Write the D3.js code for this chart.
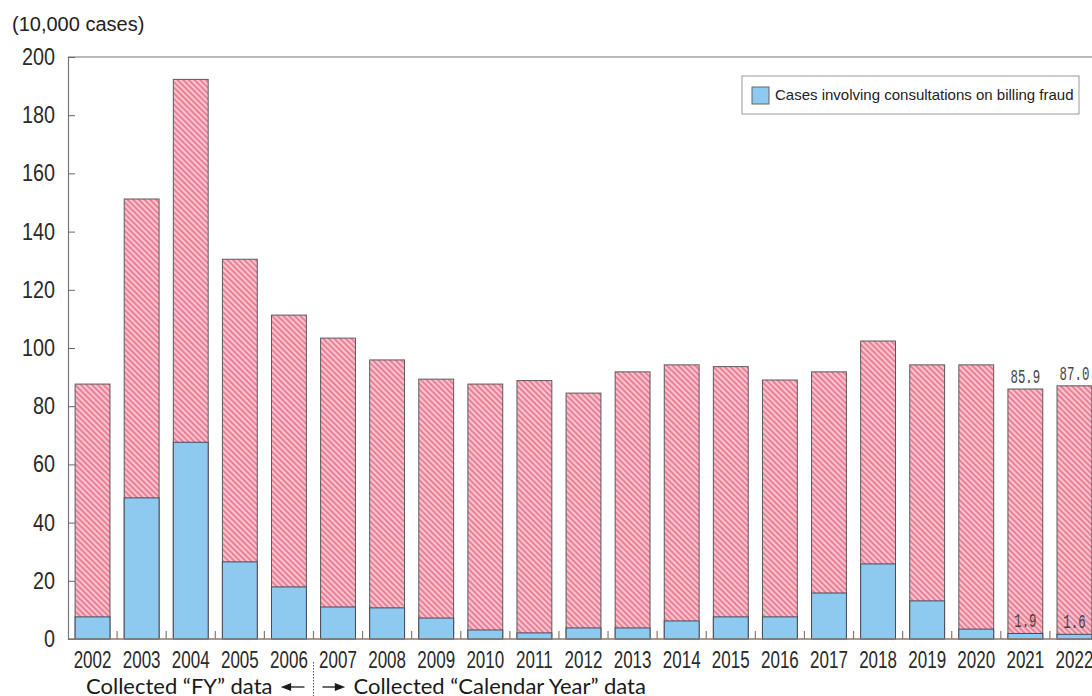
<!DOCTYPE html>
<html>
<head>
<meta charset="utf-8">
<script src="https://cdn.jsdelivr.net/npm/d3@7"></script>
<style>
  html, body { margin: 0; padding: 0; background: #fff; }
  svg { display: block; }
</style>
</head>
<body>
<svg id="chart" width="1092" height="696"></svg>
<script>
const years = ["2002","2003","2004","2005","2006","2007","2008","2009","2010","2011","2012","2013","2014","2015","2016","2017","2018","2019","2020","2021","2022"];
const totalCases = [87.6,151.2,192.3,130.5,111.3,103.4,95.9,89.3,87.6,88.8,84.5,91.8,94.2,93.6,89.0,91.8,102.4,94.2,94.2,85.9,87.0];
const fraudCases = [7.6,48.5,67.6,26.5,17.9,11.0,10.7,7.2,3.1,2.1,3.8,3.8,6.2,7.6,7.6,15.8,25.8,13.1,3.4,1.9,1.6];
const yTicks = [0,20,40,60,80,100,120,140,160,180,200];
const totalLabels = [{year:"2021", text:"85.9"},{year:"2022", text:"87.0"}];
const fraudLabels = [{year:"2021", text:"1.9"},{year:"2022", text:"1.6"}];
const dividerYear = "2006";

const svg = d3.select("#chart");
const mLeft = 68, mRight = 1099, mTop = 57, mBottom = 639;

const x = d3.scaleBand().domain(years).range([mLeft, mRight]).paddingInner(0.29).paddingOuter(0.145);
const y = d3.scaleLinear().domain([0, 200]).range([mBottom, mTop]);
const step = x.step();
const boundary = d => x(d) + x.bandwidth() + (step - x.bandwidth())/2;

// hatch pattern
const defs = svg.append("defs");
const pat = defs.append("pattern").attr("id","hatch").attr("patternUnits","userSpaceOnUse")
  .attr("width",4).attr("height",4).attr("patternTransform","rotate(-45)");
pat.append("rect").attr("width",4).attr("height",4).attr("fill","#f9c4ce");
pat.append("line").attr("x1",1).attr("y1",0).attr("x2",1).attr("y2",4)
  .attr("stroke","#ea8198").attr("stroke-width",2);

// frame top line
svg.append("line").attr("x1",mLeft).attr("x2",mRight).attr("y1",mTop).attr("y2",mTop)
  .attr("stroke","#777").attr("stroke-width",1.2);

// bars: total (hatched)
svg.append("g").selectAll("rect").data(years).join("rect")
  .attr("x", d => x(d)).attr("width", x.bandwidth())
  .attr("y", (d,i) => y(totalCases[i])).attr("height", (d,i) => y(0) - y(totalCases[i]))
  .attr("fill","url(#hatch)").attr("stroke","#5a5a5a").attr("stroke-width",1);

// bars: fraud (blue)
svg.append("g").selectAll("rect").data(years).join("rect")
  .attr("x", d => x(d)).attr("width", x.bandwidth())
  .attr("y", (d,i) => y(fraudCases[i])).attr("height", (d,i) => y(0) - y(fraudCases[i]))
  .attr("fill","#8ec9ef").attr("stroke","#4a4a5a").attr("stroke-width",1);

// y axis
const yAxis = d3.axisLeft(y).tickValues(yTicks).tickSize(-7).tickFormat("");
const gy = svg.append("g").attr("transform",`translate(${mLeft},0)`).call(yAxis);
gy.select(".domain").attr("stroke","#777").attr("stroke-width",1.2);
gy.selectAll(".tick line").attr("stroke","#666");
svg.append("g").selectAll("text").data(yTicks).join("text")
  .attr("transform", d => `translate(55,${y(d)}) scale(0.86,1)`)
  .attr("text-anchor","end").attr("dy","0.35em")
  .attr("font-family","'Liberation Sans',Arial,sans-serif")
  .attr("font-size","23px").attr("fill","#2a2a2a").text(d => d);

// x axis line and ticks at band boundaries
svg.append("line").attr("x1",mLeft).attr("x2",mRight).attr("y1",mBottom).attr("y2",mBottom)
  .attr("stroke","#8a7a6a").attr("stroke-width",1.5);
svg.append("g").selectAll("line").data(years).join("line")
  .attr("x1", boundary).attr("x2", boundary)
  .attr("y1", mBottom).attr("y2", mBottom - 8)
  .attr("stroke","#8a7a6a").attr("stroke-width",1.2);

svg.append("g").selectAll("text").data(years).join("text")
  .attr("transform", d => `translate(${x(d) + x.bandwidth()/2},668) scale(0.74,1)`)
  .attr("text-anchor","middle")
  .attr("font-family","'Liberation Sans',Arial,sans-serif")
  .attr("font-size","23px").attr("fill","#2a2a2a").text(d => d);

// value labels
svg.append("g").selectAll("text").data(totalLabels).join("text")
  .attr("transform", d => `translate(${x(d.year) + x.bandwidth()/2},${y(totalCases[years.indexOf(d.year)]) - 6}) scale(0.62,1)`)
  .attr("text-anchor","middle").attr("font-family","'Liberation Mono','DejaVu Sans Mono',monospace")
  .attr("font-size","20px").attr("fill","#444").text(d => d.text);
svg.append("g").selectAll("text").data(fraudLabels).join("text")
  .attr("transform", d => `translate(${x(d.year) + x.bandwidth()/2},${y(fraudCases[years.indexOf(d.year)]) - 6}) scale(0.62,1)`)
  .attr("text-anchor","middle").attr("font-family","'Liberation Mono','DejaVu Sans Mono',monospace")
  .attr("font-size","20px").attr("fill","#444").text(d => d.text);

// unit label
svg.append("text").attr("x",12).attr("y",31)
  .attr("font-family","'Liberation Sans',Arial,sans-serif").attr("font-size","20px").attr("fill","#222")
  .text("(10,000 cases)");

// legend
const lg = svg.append("g");
lg.append("rect").attr("x",742).attr("y",76).attr("width",337).attr("height",38)
  .attr("fill","#fff").attr("stroke","#999").attr("stroke-width",1);
lg.append("rect").attr("x",752).attr("y",87).attr("width",17).attr("height",17)
  .attr("fill","#8ec9ef").attr("stroke","#666").attr("stroke-width",1);
lg.append("text").attr("x",775).attr("y",100)
  .attr("font-family","'Liberation Sans',Arial,sans-serif").attr("font-size","15px").attr("fill","#222")
  .text("Cases involving consultations on billing fraud");

// bottom annotation
const dx = boundary(dividerYear);
const ann = svg.append("g").attr("font-family","Lato,'Open Sans',sans-serif").attr("font-size","22px").attr("fill","#1a1a1a");
ann.append("text").attr("x",dx - 41).attr("y",694).attr("text-anchor","end").text("Collected \u201cFY\u201d data");
ann.append("text").attr("x",dx + 40).attr("y",694).text("Collected \u201cCalendar Year\u201d data");
svg.append("line").attr("x1",dx).attr("x2",dx).attr("y1",662).attr("y2",696)
  .attr("stroke","#555").attr("stroke-dasharray","1.5,1.5").attr("stroke-width",1);
// arrows
const arr = svg.append("g").attr("stroke","#1a1a1a").attr("stroke-width",1.3).attr("fill","#1a1a1a");
arr.append("line").attr("x1",dx - 29).attr("x2",dx - 9).attr("y1",687).attr("y2",687);
arr.append("path").attr("d",`M${dx-31},687 L${dx-23},684 L${dx-23},690 Z`);
arr.append("line").attr("x1",dx + 9).attr("x2",dx + 28).attr("y1",687).attr("y2",687);
arr.append("path").attr("d",`M${dx+30},687 L${dx+22},684 L${dx+22},690 Z`);
</script>
</body>
</html>
